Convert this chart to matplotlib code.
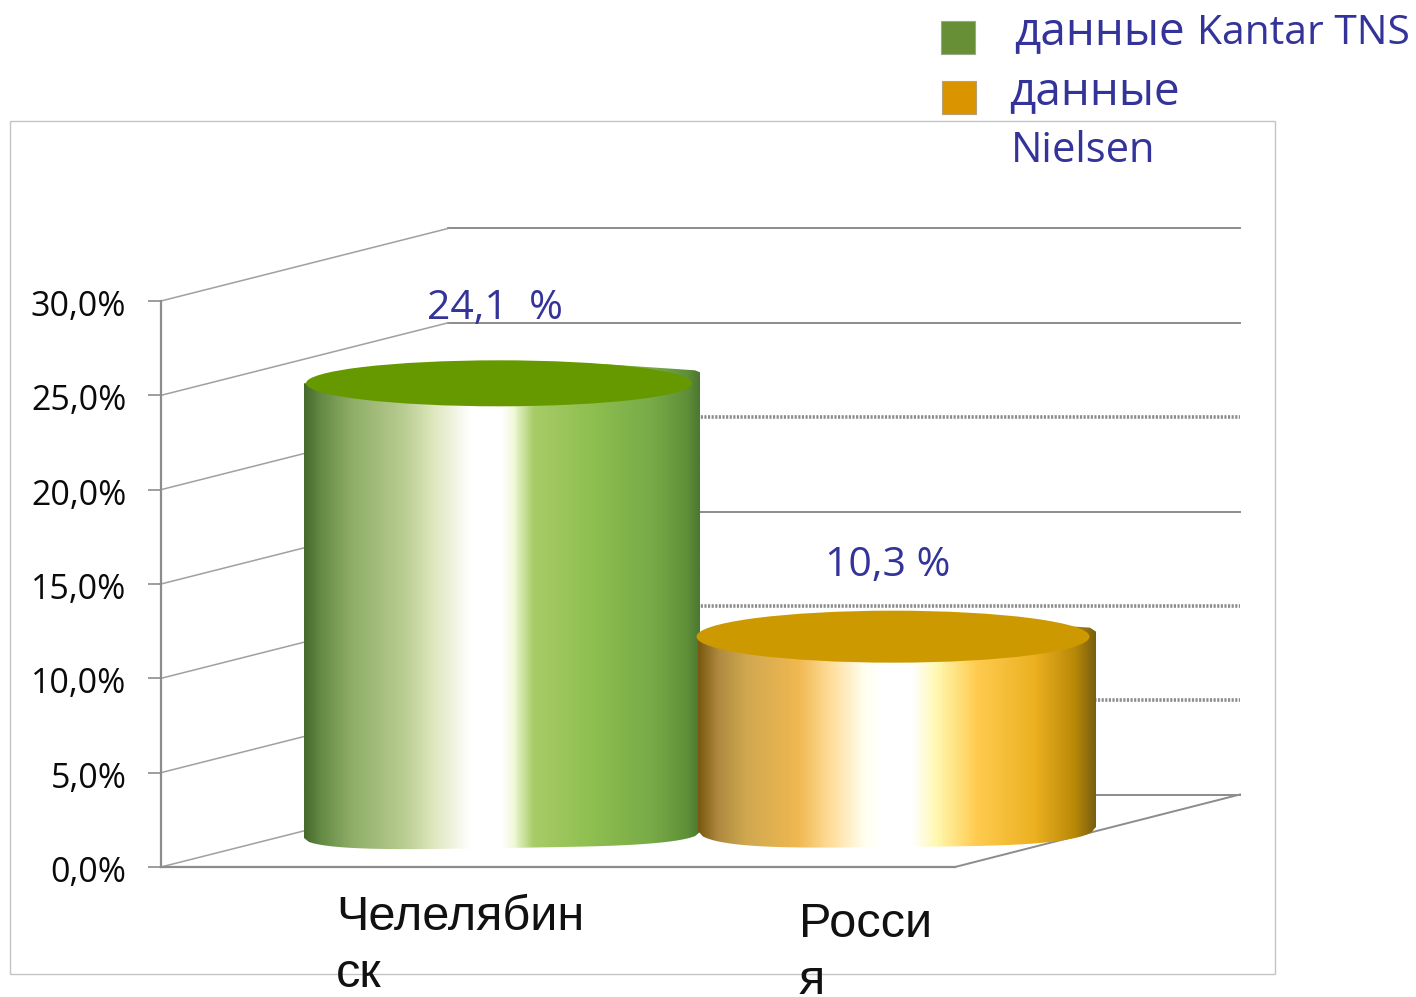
import numpy as np
import matplotlib
matplotlib.use("Agg")
import matplotlib.pyplot as plt
from matplotlib.colors import LinearSegmentedColormap
from matplotlib.patches import Ellipse, Polygon, Rectangle
from matplotlib.transforms import ScaledTranslation

# ---- data ----
categories = ["Челелябин\nск", "Росси\nя"]
values = [24.1, 10.3]
value_labels = ["24,1  %", "10,3 %"]
yticks = [0, 5, 10, 15, 20, 25, 30]
ytick_labels = ["0,0%", "5,0%", "10,0%", "15,0%", "20,0%", "25,0%", "30,0%"]
dotted_levels = [5, 10, 20]

W, H = 1416, 997
fig = plt.figure(figsize=(W / 100, H / 100), dpi=100, facecolor="white")

# axes frame: x=161..955 px, y=301..867 px
L, R, T, B = 161, 955, 301, 867
ax = fig.add_axes([L / W, 1 - B / H, (R - L) / W, (B - T) / H])
ax.patch.set_alpha(0)
UX = 395.0
UY = (B - T) / 30.0
X0 = 502.0
ax.set_xlim((L - X0) / UX, (R - X0) / UX)
ax.set_ylim(0, 30)
px = lambda d: d / UX
py = lambda d: d / UY

GRID = "#8c8c8c"
# outer frame
fig.add_artist(Rectangle((10 / W, 1 - 974 / H), 1265 / W, 853 / H, transform=fig.transFigure,
                         fill=False, ec="#c4c4c4", lw=1.0, zorder=0))

# back wall gridlines + diagonals on side wall
DX, DY = px(287), py(72.5)
xl = ax.get_xlim()
for v in yticks:
    dotted = v in dotted_levels
    ax.plot([xl[0] + DX, px(1240 - X0)], [v + DY, v + DY], color=GRID, clip_on=False, zorder=1,
            lw=2.6 if dotted else 1.4, ls=(0, (0.6, 0.4)) if dotted else "-")
    ax.plot([xl[0], xl[0] + DX], [v, v + DY], color="#a0a0a0", lw=1.1, clip_on=False, zorder=1)
ax.plot([xl[1], xl[1] + px(285)], [0, DY], color=GRID, lw=1.4, clip_on=False, zorder=1)

# cylinders
green = LinearSegmentedColormap.from_list("g", [
    (0, "#466a2c"), (.04, "#648a44"), (.12, "#8fae68"), (.25, "#b8cc90"), (.33, "#dfe8c0"),
    (.42, "#ffffff"), (.5, "#ffffff"), (.53, "#f0f8d8"), (.58, "#a8cc68"), (.72, "#8fc050"),
    (.88, "#78aa48"), (.97, "#5f9038"), (1, "#4c7830")])
orange = LinearSegmentedColormap.from_list("o", [
    (0, "#7a5a10"), (.05, "#b08a40"), (.12, "#d0a850"), (.25, "#f0b850"), (.33, "#ffdc98"),
    (.42, "#fffff0"), (.46, "#ffffff"), (.54, "#ffffff"), (.6, "#fff8b0"), (.7, "#ffcc50"),
    (.85, "#ecb020"), (.95, "#b88808"), (1, "#7a5f10")])

styles = [
    dict(cmap=green, top="#669900", base=py(B - 838), cx=0.0, hw=px(198), slant=6, sag=13,
         ex=-3, ew=386, eh=23,
         back=[(-198, 0), (105, -19), (193, -13), (198, -11)]),
    dict(cmap=orange, top="#cc9900", base=py(B - 831), cx=1.0, hw=px(199), slant=4, sag=18,
         ex=-4, ew=393, eh=26,
         back=[(-199, 3), (123, -14), (193, -9), (199, -5)]),
]
for val, s in zip(values, styles):
    top = s["base"] + val
    t = np.linspace(-1, 1, 81)
    xb = s["cx"] + t * s["hw"]
    yb = s["base"] + py(s["slant"]) * (t + 1) / 2 - py(s["sag"]) * np.sqrt(np.clip(1 - t ** 4, 0, 1))
    upper = [(s["cx"] + px(a), top - py(b)) for a, b in s["back"]]
    verts = upper + list(zip(xb[::-1], yb[::-1]))
    clip = Polygon(verts, closed=True, transform=ax.transData, fc="none", ec="none")
    ax.add_patch(clip)
    im = ax.imshow(np.linspace(0, 1, 500)[None, :], cmap=s["cmap"], aspect="auto",
                   extent=(s["cx"] - s["hw"], s["cx"] + s["hw"], yb.min() - 1, top + 2),
                   zorder=3, interpolation="bilinear")
    im.set_clip_path(clip)
    im.set_clip_box(fig.bbox)
    ax.add_patch(Ellipse((s["cx"] + px(s["ex"]), top), px(s["ew"]), py(2 * s["eh"]),
                         fc=s["top"], ec="none", zorder=4, clip_on=False))

ax.set_xlim(xl)
ax.set_ylim(0, 30)

# value labels
lab_pos = [(427, 319), (825, 576)]
for lab, (x, y) in zip(value_labels, lab_pos):
    ax.text(px(x - X0), (B - y) / UY, lab, color="#333399", fontsize=29.5, family="Open Sans",
            ha="left", va="baseline", zorder=6, clip_on=False)

# axes
for sp in ["top", "right"]:
    ax.spines[sp].set_visible(False)
for sp in ["left", "bottom"]:
    ax.spines[sp].set_color(GRID)
    ax.spines[sp].set_linewidth(1.6)
    ax.spines[sp].set_zorder(2)
ax.set_yticks(yticks)
ax.set_yticklabels(ytick_labels, family="Open Sans", fontsize=24.5, color="#0a0a0a")
ax.tick_params(axis="y", length=9.4, width=1.2, color=GRID, pad=15.5, direction="out")
for lbl in ax.get_yticklabels():
    lbl.set_transform(lbl.get_transform() + ScaledTranslation(0, -2 / 100, fig.dpi_scale_trans))
ax.set_xticks([0, 1])
ax.set_xticklabels(categories, family="Liberation Sans", fontsize=35, color="#111111",
                   linespacing=1.35, ha="left", va="top")
ax.tick_params(axis="x", length=0, pad=0)
offs = [(336 - X0, -28), (799 - (X0 + UX), -35)]
for lbl, (dx, dy) in zip(ax.get_xticklabels(), offs):
    lbl.set_transform(lbl.get_transform() + ScaledTranslation(dx / 100, dy / 100, fig.dpi_scale_trans))

# legend
def ftext(x, y, s, size):
    fig.text(x / W, 1 - y / H, s, color="#333399", fontsize=size, family="Open Sans",
             ha="left", va="baseline")
ftext(1014, 44, "данные", 33)
ftext(1197, 44, "Kantar TNS", 29.3)
ftext(1009, 104, "данные", 33)
ftext(1011, 162, "Nielsen", 30)
fig.add_artist(Rectangle((941 / W, 1 - 54 / H), 34 / W, 33 / H, transform=fig.transFigure,
                         fc="#668f36", ec="#9aa88c", lw=0.8))
fig.add_artist(Rectangle((942 / W, 1 - 114 / H), 34 / W, 33 / H, transform=fig.transFigure,
                         fc="#d99400", ec="#b5a17a", lw=0.8))

fig.savefig("out.png", dpi=100)
